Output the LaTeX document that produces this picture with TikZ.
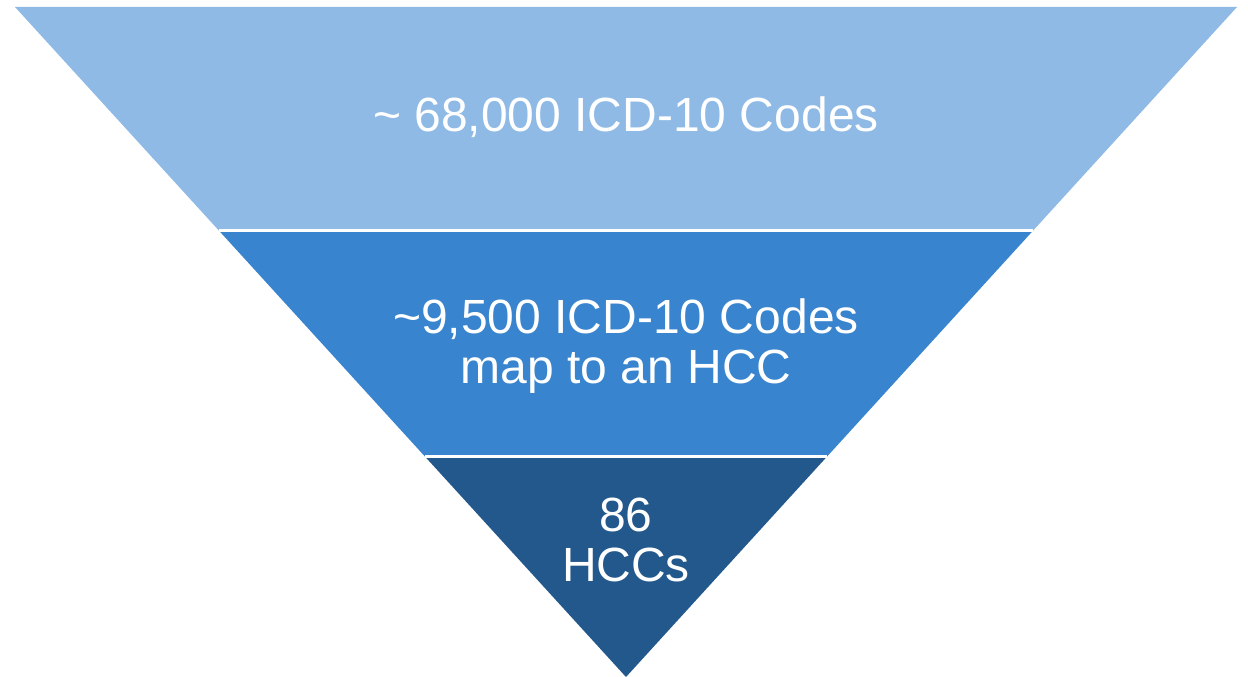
\documentclass[tikz,border=0pt]{standalone}
\usepackage{fontspec}
\setmainfont{Liberation Sans}
\usetikzlibrary{calc}
\definecolor{lightb}{RGB}{143,186,229}
\definecolor{midb}{RGB}{56,132,206}
\definecolor{darkb}{RGB}{35,88,140}
\begin{document}
\begin{tikzpicture}[x=1pt,y=-1pt,
  lbl/.style={text=white,align=center,font=\fontsize{48}{50}\selectfont,inner sep=0pt}]
\useasboundingbox (0,0) rectangle (1248,677);
\coordinate (tl) at (15,7);
\coordinate (tr) at (1237,7);
\coordinate (ap) at (626,677);
\coordinate (l1) at ($(tl)!0.3335!(ap)$);
\coordinate (r1) at ($(tr)!0.3335!(ap)$);
\coordinate (l2) at ($(tl)!0.6716!(ap)$);
\coordinate (r2) at ($(tr)!0.6716!(ap)$);
\fill[lightb] (tl) -- (tr) -- (r1) -- (l1) -- cycle;
\fill[midb] (l1) -- (r1) -- (r2) -- (l2) -- cycle;
\fill[darkb] (l2) -- (r2) -- (ap) -- cycle;
\draw[white,line width=3pt] (l1) -- (r1);
\draw[white,line width=3pt] (l2) -- (r2);
\node[lbl] (t1) at (626,117) {\textasciitilde\ 68,000 ICD-10 Codes};
\node[lbl] (t2) at (626,346.5) {\textasciitilde9,500 ICD-10 Codes\\map to an HCC};
\node[lbl] (t3) at (626,540) {86\\HCCs};
\end{tikzpicture}
\end{document}
